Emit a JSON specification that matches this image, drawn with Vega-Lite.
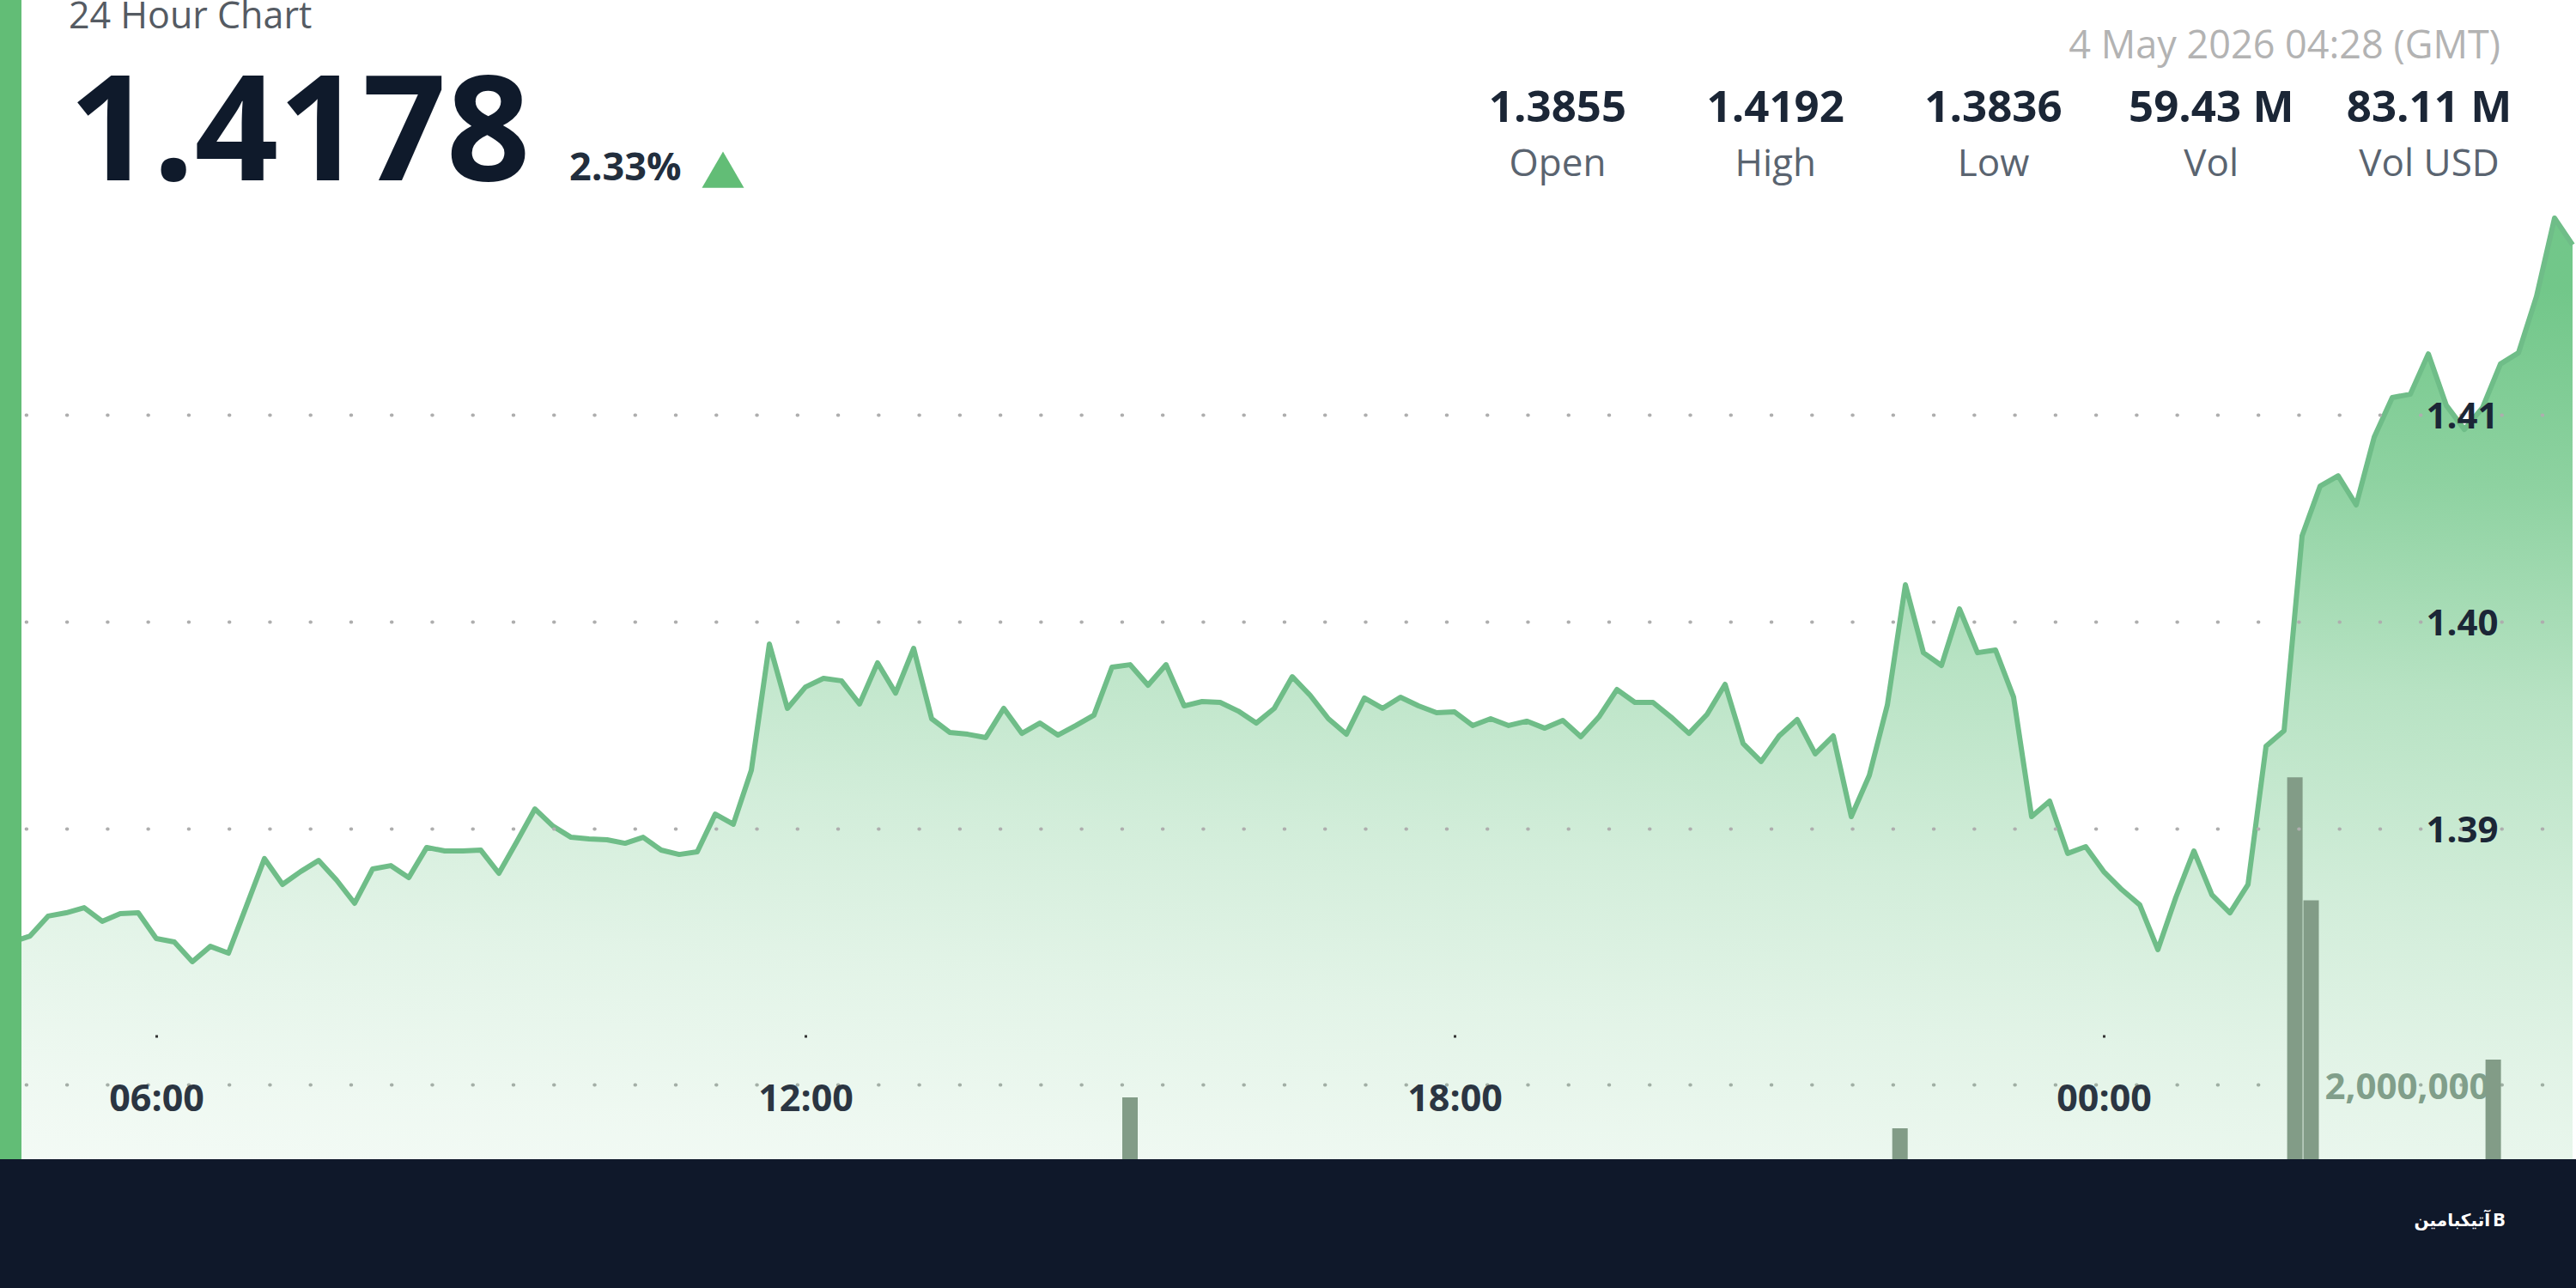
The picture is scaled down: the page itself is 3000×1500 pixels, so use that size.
{
  "$schema": "https://vega.github.io/schema/vega-lite/v6.json",
  "width": 3000,
  "height": 1500,
  "padding": 0,
  "autosize": {"type": "none"},
  "background": "#ffffff",
  "config": {"view": {"stroke": null}, "text": {"font": "Open Sans"}},
  "datasets": {
    "prices": [
      {"t":"2026-05-03T04:40:00Z","p":1.38452},{"t":"2026-05-03T04:50:00Z","p":1.38481},
      {"t":"2026-05-03T05:00:00Z","p":1.38577},{"t":"2026-05-03T05:10:00Z","p":1.38593},{"t":"2026-05-03T05:20:00Z","p":1.38618},{"t":"2026-05-03T05:30:00Z","p":1.38552},{"t":"2026-05-03T05:40:00Z","p":1.38589},{"t":"2026-05-03T05:50:00Z","p":1.38593},
      {"t":"2026-05-03T06:00:00Z","p":1.38469},{"t":"2026-05-03T06:10:00Z","p":1.38452},{"t":"2026-05-03T06:20:00Z","p":1.38357},{"t":"2026-05-03T06:30:00Z","p":1.38431},{"t":"2026-05-03T06:40:00Z","p":1.38398},{"t":"2026-05-03T06:50:00Z","p":1.38626},
      {"t":"2026-05-03T07:00:00Z","p":1.38855},{"t":"2026-05-03T07:10:00Z","p":1.38730},{"t":"2026-05-03T07:20:00Z","p":1.38792},{"t":"2026-05-03T07:30:00Z","p":1.38846},{"t":"2026-05-03T07:40:00Z","p":1.38751},{"t":"2026-05-03T07:50:00Z","p":1.38639},
      {"t":"2026-05-03T08:00:00Z","p":1.38805},{"t":"2026-05-03T08:10:00Z","p":1.38821},{"t":"2026-05-03T08:20:00Z","p":1.38763},{"t":"2026-05-03T08:30:00Z","p":1.38909},{"t":"2026-05-03T08:40:00Z","p":1.38892},{"t":"2026-05-03T08:50:00Z","p":1.38892},
      {"t":"2026-05-03T09:00:00Z","p":1.38896},{"t":"2026-05-03T09:10:00Z","p":1.38784},{"t":"2026-05-03T09:20:00Z","p":1.38938},{"t":"2026-05-03T09:30:00Z","p":1.39095},{"t":"2026-05-03T09:40:00Z","p":1.39012},{"t":"2026-05-03T09:50:00Z","p":1.38958},
      {"t":"2026-05-03T10:00:00Z","p":1.38950},{"t":"2026-05-03T10:10:00Z","p":1.38946},{"t":"2026-05-03T10:20:00Z","p":1.38929},{"t":"2026-05-03T10:30:00Z","p":1.38958},{"t":"2026-05-03T10:40:00Z","p":1.38896},{"t":"2026-05-03T10:50:00Z","p":1.38875},
      {"t":"2026-05-03T11:00:00Z","p":1.38888},{"t":"2026-05-03T11:10:00Z","p":1.39070},{"t":"2026-05-03T11:20:00Z","p":1.39021},{"t":"2026-05-03T11:30:00Z","p":1.39282},{"t":"2026-05-03T11:40:00Z","p":1.39892},{"t":"2026-05-03T11:50:00Z","p":1.39581},
      {"t":"2026-05-03T12:00:00Z","p":1.39684},{"t":"2026-05-03T12:10:00Z","p":1.39726},{"t":"2026-05-03T12:20:00Z","p":1.39714},{"t":"2026-05-03T12:30:00Z","p":1.39602},{"t":"2026-05-03T12:40:00Z","p":1.39801},{"t":"2026-05-03T12:50:00Z","p":1.39655},
      {"t":"2026-05-03T13:00:00Z","p":1.39871},{"t":"2026-05-03T13:10:00Z","p":1.39531},{"t":"2026-05-03T13:20:00Z","p":1.39465},{"t":"2026-05-03T13:30:00Z","p":1.39456},{"t":"2026-05-03T13:40:00Z","p":1.39440},{"t":"2026-05-03T13:50:00Z","p":1.39581},
      {"t":"2026-05-03T14:00:00Z","p":1.39460},{"t":"2026-05-03T14:10:00Z","p":1.39510},{"t":"2026-05-03T14:20:00Z","p":1.39452},{"t":"2026-05-03T14:30:00Z","p":1.39498},{"t":"2026-05-03T14:40:00Z","p":1.39548},{"t":"2026-05-03T14:50:00Z","p":1.39780},
      {"t":"2026-05-03T15:00:00Z","p":1.39792},{"t":"2026-05-03T15:10:00Z","p":1.39693},{"t":"2026-05-03T15:20:00Z","p":1.39792},{"t":"2026-05-03T15:30:00Z","p":1.39593},{"t":"2026-05-03T15:40:00Z","p":1.39614},{"t":"2026-05-03T15:50:00Z","p":1.39610},
      {"t":"2026-05-03T16:00:00Z","p":1.39568},{"t":"2026-05-03T16:10:00Z","p":1.39510},{"t":"2026-05-03T16:20:00Z","p":1.39581},{"t":"2026-05-03T16:30:00Z","p":1.39734},{"t":"2026-05-03T16:40:00Z","p":1.39643},{"t":"2026-05-03T16:50:00Z","p":1.39531},
      {"t":"2026-05-03T17:00:00Z","p":1.39456},{"t":"2026-05-03T17:10:00Z","p":1.39631},{"t":"2026-05-03T17:20:00Z","p":1.39581},{"t":"2026-05-03T17:30:00Z","p":1.39635},{"t":"2026-05-03T17:40:00Z","p":1.39593},{"t":"2026-05-03T17:50:00Z","p":1.39560},
      {"t":"2026-05-03T18:00:00Z","p":1.39564},{"t":"2026-05-03T18:10:00Z","p":1.39498},{"t":"2026-05-03T18:20:00Z","p":1.39531},{"t":"2026-05-03T18:30:00Z","p":1.39498},{"t":"2026-05-03T18:40:00Z","p":1.39519},{"t":"2026-05-03T18:50:00Z","p":1.39485},
      {"t":"2026-05-03T19:00:00Z","p":1.39523},{"t":"2026-05-03T19:10:00Z","p":1.39444},{"t":"2026-05-03T19:20:00Z","p":1.39539},{"t":"2026-05-03T19:30:00Z","p":1.39672},{"t":"2026-05-03T19:40:00Z","p":1.39610},{"t":"2026-05-03T19:50:00Z","p":1.39610},
      {"t":"2026-05-03T20:00:00Z","p":1.39539},{"t":"2026-05-03T20:10:00Z","p":1.39460},{"t":"2026-05-03T20:20:00Z","p":1.39552},{"t":"2026-05-03T20:30:00Z","p":1.39697},{"t":"2026-05-03T20:40:00Z","p":1.39411},{"t":"2026-05-03T20:50:00Z","p":1.39324},
      {"t":"2026-05-03T21:00:00Z","p":1.39448},{"t":"2026-05-03T21:10:00Z","p":1.39527},{"t":"2026-05-03T21:20:00Z","p":1.39361},{"t":"2026-05-03T21:30:00Z","p":1.39448},{"t":"2026-05-03T21:40:00Z","p":1.39058},{"t":"2026-05-03T21:50:00Z","p":1.39257},
      {"t":"2026-05-03T22:00:00Z","p":1.39597},{"t":"2026-05-03T22:10:00Z","p":1.40178},{"t":"2026-05-03T22:20:00Z","p":1.39850},{"t":"2026-05-03T22:30:00Z","p":1.39788},{"t":"2026-05-03T22:40:00Z","p":1.40062},{"t":"2026-05-03T22:50:00Z","p":1.39850},
      {"t":"2026-05-03T23:00:00Z","p":1.39863},{"t":"2026-05-03T23:10:00Z","p":1.39635},{"t":"2026-05-03T23:20:00Z","p":1.39058},{"t":"2026-05-03T23:30:00Z","p":1.39133},{"t":"2026-05-03T23:40:00Z","p":1.38880},{"t":"2026-05-03T23:50:00Z","p":1.38913},
      {"t":"2026-05-04T00:00:00Z","p":1.38792},{"t":"2026-05-04T00:10:00Z","p":1.38705},{"t":"2026-05-04T00:20:00Z","p":1.38631},{"t":"2026-05-04T00:30:00Z","p":1.38415},{"t":"2026-05-04T00:40:00Z","p":1.38668},{"t":"2026-05-04T00:50:00Z","p":1.38892},
      {"t":"2026-05-04T01:00:00Z","p":1.38680},{"t":"2026-05-04T01:10:00Z","p":1.38593},{"t":"2026-05-04T01:20:00Z","p":1.38730},{"t":"2026-05-04T01:30:00Z","p":1.39398},{"t":"2026-05-04T01:40:00Z","p":1.39473},{"t":"2026-05-04T01:50:00Z","p":1.40415},
      {"t":"2026-05-04T02:00:00Z","p":1.40655},{"t":"2026-05-04T02:10:00Z","p":1.40705},{"t":"2026-05-04T02:20:00Z","p":1.40564},{"t":"2026-05-04T02:30:00Z","p":1.40892},{"t":"2026-05-04T02:40:00Z","p":1.41083},{"t":"2026-05-04T02:50:00Z","p":1.41099},
      {"t":"2026-05-04T03:00:00Z","p":1.41294},{"t":"2026-05-04T03:10:00Z","p":1.41045},{"t":"2026-05-04T03:20:00Z","p":1.40929},{"t":"2026-05-04T03:30:00Z","p":1.41033},{"t":"2026-05-04T03:40:00Z","p":1.41245},{"t":"2026-05-04T03:50:00Z","p":1.41299},
      {"t":"2026-05-04T04:00:00Z","p":1.41572},{"t":"2026-05-04T04:10:00Z","p":1.41950},{"t":"2026-05-04T04:20:00Z","p":1.41821}
    ],
    "volumes": [
      {"t":"2026-05-03T15:00:00Z","vol":1873000},
      {"t":"2026-05-03T22:07:00Z","vol":1570000},
      {"t":"2026-05-04T01:46:00Z","vol":5020000},
      {"t":"2026-05-04T01:55:00Z","vol":3810000},
      {"t":"2026-05-04T03:36:00Z","vol":2245000}
    ],
    "stats": [
      {"stat":"Open","value":"1.3855"},
      {"stat":"High","value":"1.4192"},
      {"stat":"Low","value":"1.3836"},
      {"stat":"Vol","value":"59.43 M"},
      {"stat":"Vol USD","value":"83.11 M"}
    ]
  },
  "resolve": {"scale": {"x": "independent", "y": "independent"}},
  "layer": [
    {
      "resolve": {"scale": {"y": "independent"}},
      "layer": [
        {
          "data": {"name": "prices"},
          "mark": {
            "type": "area",
            "line": false,
            "color": {
              "gradient": "linear", "x1": 0.58, "y1": 0, "x2": 0.42, "y2": 1,
              "stops": [
                {"offset": 0, "color": "rgba(76,184,106,0.79)"},
                {"offset": 0.184, "color": "rgba(76,184,106,0.63)"},
                {"offset": 0.377, "color": "rgba(76,184,106,0.40)"},
                {"offset": 0.571, "color": "rgba(76,184,106,0.25)"},
                {"offset": 0.719, "color": "rgba(76,184,106,0.16)"},
                {"offset": 0.872, "color": "rgba(76,184,106,0.09)"},
                {"offset": 1, "color": "rgba(76,184,106,0.05)"}
              ]
            }
          },
          "encoding": {
            "x": {
              "field": "t", "type": "temporal",
              "scale": {
                "type": "utc",
                "nice": false,
                "padding": 0,
                "domain": [
                  {"year": 2026, "month": 5, "date": 3, "hours": 4, "minutes": 33, "seconds": 20, "utc": true},
                  {"year": 2026, "month": 5, "date": 4, "hours": 4, "minutes": 21, "seconds": 54, "utc": true}
                ]
              },
              "axis": {
                "orient": "bottom", "offset": -295, "title": null, "domain": false, "grid": false,
                "values": [
                  {"year": 2026, "month": 5, "date": 3, "hours": 6, "utc": true},
                  {"year": 2026, "month": 5, "date": 3, "hours": 12, "utc": true},
                  {"year": 2026, "month": 5, "date": 3, "hours": 18, "utc": true},
                  {"year": 2026, "month": 5, "date": 4, "hours": 0, "utc": true}
                ],
                "format": "%H:%M", "tickSize": 3, "tickWidth": 3, "tickColor": "#333333",
                "labelFont": "Open Sans", "labelFontSize": 43, "labelFontWeight": 700, "labelColor": "#2b3542",
                "labelPadding": 51, "labelBaseline": "top", "labelFlush": false, "labelOverlap": false, "zindex": 1
              }
            },
            "y": {
              "field": "p", "type": "quantitative",
              "scale": {"domain": [1.3678, 1.43004], "nice": false, "zero": false},
              "axis": {
                "orient": "right", "offset": -178, "title": null, "domain": false, "ticks": false,
                "values": [1.39, 1.40, 1.41], "format": ".2f",
                "grid": true, "gridColor": "#aeaeae", "gridWidth": 4, "gridCap": "round", "gridDash": [0.5, 46.76], "gridDashOffset": 8,
                "labelFont": "Open Sans", "labelFontSize": 42, "labelFontWeight": 700, "labelColor": "#1b2636",
                "labelPadding": 3, "labelAlign": "left", "labelOverlap": false, "labelOffset": 3, "zindex": 1
              }
            },
            "y2": {"datum": 1.3678}
          }
        },
        {
          "data": {"name": "prices"},
          "mark": {"type": "line", "color": "#6fbd88", "strokeWidth": 6, "strokeJoin": "round"},
          "encoding": {
            "x": {"field": "t", "type": "temporal"},
            "y": {"field": "p", "type": "quantitative", "scale": {"domain": [1.3678, 1.43004], "nice": false, "zero": false}, "axis": null}
          }
        },
        {
          "data": {"name": "volumes"},
          "mark": {"type": "bar", "color": "#829c87", "size": 18},
          "encoding": {
            "x": {"field": "t", "type": "temporal"},
            "y": {
              "field": "vol", "type": "quantitative", "stack": null,
              "scale": {"domain": [0, 12660000], "nice": false},
              "axis": {
                "orient": "right", "offset": -293, "title": null, "domain": false, "ticks": false,
                "values": [2000000], "format": ",d",
                "grid": true, "gridColor": "#aeaeae", "gridWidth": 4, "gridCap": "round", "gridDash": [0.5, 46.76], "gridDashOffset": 8,
                "labelFont": "Open Sans", "labelFontSize": 42, "labelFontWeight": 700, "labelColor": "#8a9a90",
                "labelPadding": 0, "labelAlign": "left", "labelOverlap": false, "labelOffset": 3, "labelLimit": 400
              }
            }
          }
        },
        {
          "data": {"values": [{"part": "footer"}]},
          "mark": {"type": "rect", "color": "#0f182a"},
          "encoding": {
            "x": {"datum": {"year": 2026, "month": 5, "date": 3, "hours": 4, "minutes": 33, "seconds": 20, "utc": true}, "type": "temporal"},
            "x2": {"datum": {"year": 2026, "month": 5, "date": 4, "hours": 4, "minutes": 21, "seconds": 54, "utc": true}},
            "y": {"datum": 1.37402, "type": "quantitative", "scale": {"domain": [1.3678, 1.43004], "nice": false, "zero": false}, "axis": null},
            "y2": {"datum": 1.3678}
          }
        },
        {
          "data": {"values": [{"part": "edge"}]},
          "mark": {"type": "rect", "color": "#62bd76"},
          "encoding": {
            "x": {"datum": {"year": 2026, "month": 5, "date": 3, "hours": 4, "minutes": 33, "seconds": 20, "utc": true}, "type": "temporal"},
            "x2": {"datum": {"year": 2026, "month": 5, "date": 3, "hours": 4, "minutes": 45, "seconds": 14, "utc": true}},
            "y": {"datum": 1.43004, "type": "quantitative", "scale": {"domain": [1.3678, 1.43004], "nice": false, "zero": false}, "axis": null},
            "y2": {"datum": 1.37402}
          }
        },
        {
          "data": {"values": [{"label": "24 Hour Chart"}]},
          "mark": {"type": "text", "align": "left", "baseline": "alphabetic", "fontSize": 43, "color": "#555b63"},
          "encoding": {
            "text": {"field": "label"},
            "x": {"datum": {"year": 2026, "month": 5, "date": 3, "hours": 5, "minutes": 11, "seconds": 26, "utc": true}, "type": "temporal"},
            "y": {"datum": 1.42867, "type": "quantitative", "scale": {"domain": [1.3678, 1.43004], "nice": false, "zero": false}, "axis": null}
          }
        },
        {
          "data": {"values": [{"label": "1.4178"}]},
          "mark": {"type": "text", "align": "left", "baseline": "alphabetic", "fontSize": 171, "fontWeight": 700, "color": "#0f1a2b"},
          "encoding": {
            "text": {"field": "label"},
            "x": {"datum": {"year": 2026, "month": 5, "date": 3, "hours": 5, "minutes": 11, "seconds": 26, "utc": true}, "type": "temporal"},
            "y": {"datum": 1.42133, "type": "quantitative", "scale": {"domain": [1.3678, 1.43004], "nice": false, "zero": false}, "axis": null}
          }
        },
        {
          "data": {"values": [{"label": "2.33%"}]},
          "mark": {"type": "text", "align": "left", "baseline": "alphabetic", "fontSize": 45, "fontWeight": 700, "color": "#222e3d"},
          "encoding": {
            "text": {"field": "label"},
            "x": {"datum": {"year": 2026, "month": 5, "date": 3, "hours": 9, "minutes": 49, "seconds": 3, "utc": true}, "type": "temporal"},
            "y": {"datum": 1.42133, "type": "quantitative", "scale": {"domain": [1.3678, 1.43004], "nice": false, "zero": false}, "axis": null}
          }
        },
        {
          "data": {"values": [{"label": "up"}]},
          "mark": {"type": "point", "shape": "triangle-up", "filled": true, "size": 2400, "color": "#62bd76", "opacity": 1},
          "encoding": {
            "x": {"datum": {"year": 2026, "month": 5, "date": 3, "hours": 11, "minutes": 14, "seconds": 17, "utc": true}, "type": "temporal"},
            "y": {"datum": 1.42184, "type": "quantitative", "scale": {"domain": [1.3678, 1.43004], "nice": false, "zero": false}, "axis": null}
          }
        },
        {
          "data": {"values": [{"label": "4 May 2026 04:28 (GMT)"}]},
          "mark": {"type": "text", "align": "right", "baseline": "alphabetic", "fontSize": 45, "color": "#b3b3b3"},
          "encoding": {
            "text": {"field": "label"},
            "x": {"datum": {"year": 2026, "month": 5, "date": 4, "hours": 3, "minutes": 40, "seconds": 0, "utc": true}, "type": "temporal"},
            "y": {"datum": 1.42722, "type": "quantitative", "scale": {"domain": [1.3678, 1.43004], "nice": false, "zero": false}, "axis": null}
          }
        },
        {
          "data": {"values": [{"label": "آتیکبامین"}]},
          "mark": {"type": "text", "align": "right", "baseline": "alphabetic", "fontSize": 20, "fontWeight": 700, "font": "DejaVu Sans", "color": "#ffffff"},
          "encoding": {
            "text": {"field": "label"},
            "x": {"datum": {"year": 2026, "month": 5, "date": 4, "hours": 3, "minutes": 34, "seconds": 17, "utc": true}, "type": "temporal"},
            "y": {"datum": 1.37079, "type": "quantitative", "scale": {"domain": [1.3678, 1.43004], "nice": false, "zero": false}, "axis": null}
          }
        },
        {
          "data": {"values": [{"label": "B"}]},
          "mark": {"type": "text", "align": "left", "baseline": "alphabetic", "fontSize": 22, "fontWeight": 700, "color": "#ffffff"},
          "encoding": {
            "text": {"field": "label"},
            "x": {"datum": {"year": 2026, "month": 5, "date": 4, "hours": 3, "minutes": 35, "seconds": 43, "utc": true}, "type": "temporal"},
            "y": {"datum": 1.37079, "type": "quantitative", "scale": {"domain": [1.3678, 1.43004], "nice": false, "zero": false}, "axis": null}
          }
        }
      ]
    },
    {
      "data": {"name": "stats"},
      "mark": {"type": "text", "align": "center", "baseline": "alphabetic", "fontSize": 51, "fontWeight": 700, "color": "#1b2636"},
      "encoding": {
        "text": {"field": "value"},
        "x": {
          "field": "stat", "type": "ordinal", "axis": null,
          "scale": {"type": "point", "domain": ["Open", "High", "Low", "Vol", "Vol USD"], "range": [1814, 2829], "padding": 0}
        },
        "y": {"datum": 1.42415, "type": "quantitative", "scale": {"domain": [1.3678, 1.43004], "nice": false, "zero": false}, "axis": null}
      }
    },
    {
      "data": {"name": "stats"},
      "mark": {"type": "text", "align": "center", "baseline": "alphabetic", "fontSize": 44, "color": "#5a6470"},
      "encoding": {
        "text": {"field": "stat"},
        "x": {
          "field": "stat", "type": "ordinal", "axis": null,
          "scale": {"type": "point", "domain": ["Open", "High", "Low", "Vol", "Vol USD"], "range": [1814, 2829], "padding": 0}
        },
        "y": {"datum": 1.42153, "type": "quantitative", "scale": {"domain": [1.3678, 1.43004], "nice": false, "zero": false}, "axis": null}
      }
    }
  ]
}
